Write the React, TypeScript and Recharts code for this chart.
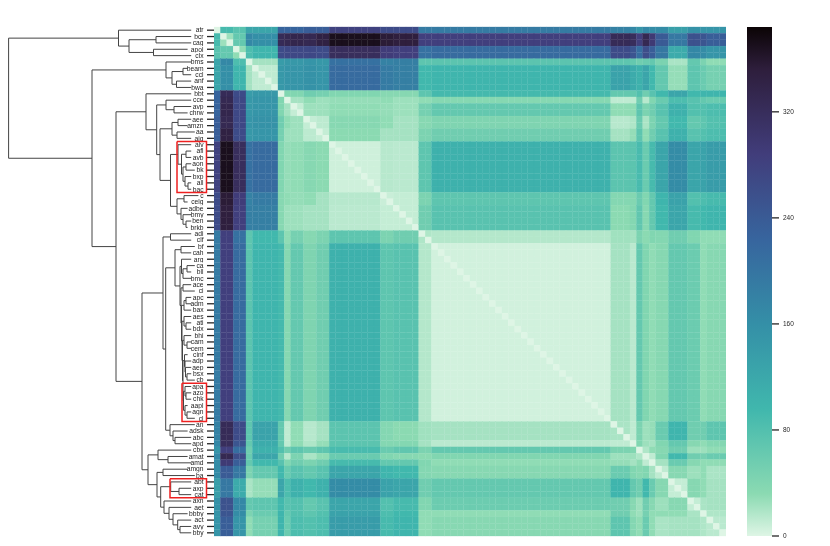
import { BarChart, Bar, ScatterChart, Scatter, XAxis, YAxis } from 'recharts'

// row order of the clustered matrix, top to bottom
const rowLabels = [
  'atr', 'bcr', 'cag', 'apol', 'clx', 'bms', 'beam', 'ccl', 'anf', 'bwa', 'bbt', 'cce', 'avp', 'chrw', 'aee', 'amzn',
  'aa', 'aig', 'alv', 'afl', 'avb', 'aon', 'bk', 'bxp', 'all', 'bac', 'c', 'celg', 'adbe', 'bmy', 'ben', 'brkb',
  'adi', 'clf', 'bf', 'cah', 'arg', 'ca', 'bll', 'bmc', 'ace', 'ci', 'apc', 'adm', 'bax', 'aes', 'ati', 'bdx', 'bhi',
  'cam', 'cem', 'cinf', 'adp', 'aep', 'bsx', 'cb', 'apa', 'azo', 'chk', 'aapl', 'agn', 'cl', 'an', 'adsk', 'abc',
  'apd', 'cbs', 'amat', 'amd', 'amgn', 'ba', 'abt', 'axp', 'cat', 'axn', 'aet', 'bbby', 'act', 'avy', 'bby',
]

// how many rows each block of the matrix covers
const blockSizes = [1, 2, 2, 1, 4, 1, 1, 2, 2, 2, 8, 2, 4, 2, 28, 3, 1, 1, 1, 1, 2, 3, 2, 1, 3]

// upper triangle of the block distances
const blockValues = [
  [0, 90, 75, 125, 125, 225, 225, 225, 235, 235, 280, 265, 265, 190, 190, 180, 170, 150, 170, 165, 165, 135, 155, 150, 150],
  [25, 65, 170, 160, 325, 330, 335, 330, 345, 370, 355, 350, 285, 285, 325, 320, 285, 330, 295, 240, 195, 255, 250, 235],
  [30, 85, 100, 265, 270, 270, 270, 265, 320, 290, 285, 205, 215, 265, 250, 210, 260, 235, 195, 115, 170, 165, 150],
  [0, 22, 140, 145, 145, 150, 145, 205, 180, 185, 70, 72, 70, 65, 55, 60, 65, 45, 20, 65, 45, 30],
  [12, 145, 150, 150, 155, 150, 215, 190, 185, 95, 100, 130, 115, 105, 125, 95, 65, 28, 70, 60, 50],
  [0, 40, 40, 55, 50, 40, 35, 35, 70, 92, 65, 65, 80, 55, 75, 95, 125, 95, 100, 100],
  [0, 22, 30, 25, 28, 30, 25, 30, 36, 12, 12, 55, 15, 40, 60, 85, 75, 65, 60],
  [10, 25, 25, 30, 28, 25, 50, 65, 30, 30, 70, 45, 55, 75, 105, 80, 80, 85],
  [10, 13, 35, 30, 22, 35, 42, 15, 18, 60, 20, 45, 65, 95, 65, 70, 80],
  [10, 32, 22, 22, 45, 55, 22, 28, 70, 30, 55, 75, 105, 75, 80, 85],
  [6, 15, 14, 70, 105, 72, 72, 88, 60, 90, 125, 165, 125, 130, 140],
  [8, 10, 45, 70, 38, 38, 60, 40, 65, 100, 130, 80, 85, 90],
  [10, 55, 75, 32, 38, 68, 35, 65, 95, 125, 90, 95, 100],
  [18, 16, 24, 22, 45, 32, 40, 38, 55, 40, 30, 30],
  [5, 22, 14, 65, 40, 30, 35, 65, 58, 30, 35],
  [20, 12, 45, 25, 28, 60, 100, 55, 55, 70],
  [0, 40, 25, 22, 40, 65, 35, 30, 38],
  [0, 18, 30, 35, 55, 25, 25, 30],
  [0, 12, 40, 95, 55, 50, 60],
  [0, 22, 60, 35, 30, 30],
  [12, 35, 25, 30, 20],
  [10, 35, 30, 22],
  [10, 20, 22],
  [0, 18],
  [14],
]

// dendrogram as nested [height, left, right], height
type TreeNode = string | [number, TreeNode, TreeNode]
const dendrogram: TreeNode = [205.4,
  [95.5, 'atr', [85, [58, 'bcr', 'cag'], [60.5, 'apol', 'clx']]],
  [122,
    [48, 'bms', [42, [31, 'beam', 'ccl'], [37.5, 'anf', 'bwa']]],
    [98,
      [68, 'bbt', [57.3,
        [48, 'cce', [40, 'avp', 'chrw']],
        [54,
          [42, [36, 'aee', 'amzn'], [37, 'aa', 'aig']],
          [43.5,
            [36, 'alv', [32.5, [28, 'afl', 'avb'], [31, [28, 'aon', 'bk'], [29, 'bxp', [26, 'all', 'bac']]]]],
            [37, [30, 'c', 'celg'], [33, 'adbe', [31, 'bmy', [28, 'ben', 'brkb']]]],
          ],
        ],
      ]],
      [72,
        [51,
          [43.5, 'adi', 'clf'],
          [48.3,
            [39,
              [33, 'bf', 'cah'],
              [34,
                [32.5, 'arg', [31, [27, 'ca', 'bll'], 'bmc']],
                [33, [31, 'ace', 'ci'],
                  [32.5, [30, [28, 'apc', 'adm'], 'bax'],
                    [32, [30, 'aes', [28, 'ati', 'bdx']],
                      [31.5, [30, 'bhi', [27, 'cam', 'cem']],
                        [31,
                          [29.5, 'cinf', [29, 'adp', [28.5, 'aep', [27, 'bsx', 'cb']]]],
                          [30.5, [29, 'apa', [28, 'azo', 'chk']], [29, 'aapl', [27, 'agn', 'cl']]],
                        ],
                      ],
                    ],
                  ],
                ],
              ],
            ],
            [44, 'an', [41, 'adsk', [39, 'abc', 'apd']]],
          ],
        ],
        [66,
          [56, 'cbs', [46, 'amat', 'amd']],
          [57,
            [51, 'amgn', 'ba'],
            [53.3,
              [43.3, 'abt', [35, 'axp', 'cat']],
              [50, 'axn', [45, 'aet', [41, 'bbby', [36.3, 'act', [34, 'avy', 'bby']]]]],
            ],
          ],
        ],
      ],
    ],
  ],
]

// red boxes: first row, row after last, reach into the tree
const boxStartRows = [18, 56, 71]
const boxEndRows = [26, 62, 74]
const boxReach = [37, 32, 44]
const BOX_RIGHT = 7.5

const colorbarTicks = [0, 80, 160, 240, 320]
const colorMax = 384

// mako_r
const rampStops = [0, 0.083, 0.25, 0.417, 0.583, 0.75, 0.917, 1]
const rampColors = ['#def5e5', '#8bdab2', '#40b7ad', '#348fa7', '#37659e', '#413d7b', '#2e1e3c', '#0b0405']

const hexToRgb = (hex: string) => [1, 3, 5].map((i) => parseInt(hex.slice(i, i + 2), 16))

function valueColor(value: number) {
  const f = Math.min(value / colorMax, 1)
  let i = 0
  while (i < rampStops.length - 2 && f > rampStops[i + 1]) i++
  const t = (f - rampStops[i]) / (rampStops[i + 1] - rampStops[i])
  const a = hexToRgb(rampColors[i])
  const b = hexToRgb(rampColors[i + 1])
  return `rgb(${a.map((c, k) => Math.round(c + (b[k] - c) * t)).join(',')})`
}

// expand the blocks to one cell per row/column
const rowBlock: number[] = blockSizes.flatMap((size, b) => Array(size).fill(b))
const cells = rowLabels.flatMap((_, r) =>
  rowLabels.map((_, c) => {
    const lo = Math.min(rowBlock[r], rowBlock[c])
    const hi = Math.max(rowBlock[r], rowBlock[c])
    return { col: c + 0.5, row: r + 0.5, value: r === c ? 0 : blockValues[lo][hi - lo] }
  })
)

// flatten the tree to U-shaped links, leaf y at row centre, node y at mean of children
const links: { d: number; row: number }[][] = []
function walk(node: TreeNode): { d: number; row: number } {
  if (typeof node === 'string') return { d: 0, row: rowLabels.indexOf(node) + 0.5 }
  const [height, left, right] = node
  const a = walk(left)
  const b = walk(right)
  links.push([a, { d: height, row: a.row }, { d: height, row: b.row }, b])
  return { d: height, row: (a.row + b.row) / 2 }
}
walk(dendrogram)

const boxes = boxStartRows.map((start, i) => [
  { d: boxReach[i], row: start },
  { d: BOX_RIGHT, row: start },
  { d: BOX_RIGHT, row: boxEndRows[i] },
  { d: boxReach[i], row: boxEndRows[i] },
  { d: boxReach[i], row: start },
])

const W = 830
const H = 546
const PLOT_TOP = 27
const PLOT_BOTTOM = 10
const HEAT_LEFT = 214
const HEAT_WIDTH = 512
const CELL_W = HEAT_WIDTH / rowLabels.length
const CELL_H = (H - PLOT_TOP - PLOT_BOTTOM) / rowLabels.length

const labelFont = '"Liberation Sans", Arial, sans-serif'
const rowTicks = rowLabels.map((_, i) => i + 0.5)

function HeatCell(props: any) {
  const { cx, cy, payload } = props
  const fill = valueColor(payload.value)
  return (
    <rect
      x={cx - CELL_W / 2}
      y={cy - CELL_H / 2}
      width={CELL_W}
      height={CELL_H}
      fill={fill}
      stroke={fill}
      strokeWidth={0.3}
    />
  )
}

function RowTick(props: any) {
  const { y, payload } = props
  const label = rowLabels[Math.floor(payload.value)]
  const right = HEAT_LEFT
  const bgWidth = 12 + label.length * 3.6
  return (
    <g>
      <rect x={right - bgWidth} y={y - CELL_H / 2} width={bgWidth} height={CELL_H} fill="#fff" />
      <line x1={right - 7} x2={right} y1={y} y2={y} stroke="#262626" strokeWidth={1.3} />
      <text x={right - 10.5} y={y} dy="0.34em" textAnchor="end" fontSize={6.7} fontFamily={labelFont} fill="#222">
        {label}
      </text>
    </g>
  )
}

const noDot = () => null

// transparent layers keep the text greyscale like the reference
const layer = { position: 'absolute', left: 0, top: 0, willChange: 'transform' } as const

export default function App() {
  const treeMargin = { top: PLOT_TOP, right: 0, bottom: PLOT_BOTTOM, left: 8.6 }
  return (
    <div style={{ position: 'absolute', left: 0, top: 0, width: W, height: H, background: '#fff' }}>
      <div style={layer}>
        <ScatterChart width={HEAT_LEFT} height={H} margin={treeMargin}>
          <XAxis type="number" dataKey="d" domain={[0, 205.4]} reversed hide />
          <YAxis type="number" dataKey="row" domain={[0, rowLabels.length]} reversed hide />
          {links.map((link, i) => (
            <Scatter
              key={i}
              data={link}
              line={{ stroke: '#444', strokeWidth: 1 }}
              shape={noDot}
              isAnimationActive={false}
            />
          ))}
        </ScatterChart>
      </div>
      <div style={layer}>
        <ScatterChart width={HEAT_LEFT + HEAT_WIDTH} height={H} margin={{ top: PLOT_TOP, right: 0, bottom: PLOT_BOTTOM, left: 0 }}>
          <XAxis type="number" dataKey="col" domain={[0, rowLabels.length]} hide />
          <YAxis
            type="number"
            dataKey="row"
            domain={[0, rowLabels.length]}
            reversed
            width={HEAT_LEFT}
            ticks={rowTicks}
            interval={0}
            tick={<RowTick />}
            tickLine={false}
            axisLine={false}
          />
          <Scatter data={cells} shape={HeatCell} isAnimationActive={false} />
        </ScatterChart>
      </div>
      <div style={layer}>
        <ScatterChart width={HEAT_LEFT} height={H} margin={treeMargin}>
          <XAxis type="number" dataKey="d" domain={[0, 205.4]} reversed hide />
          <YAxis type="number" dataKey="row" domain={[0, rowLabels.length]} reversed hide />
          {boxes.map((box, i) => (
            <Scatter
              key={i}
              data={box}
              line={{ stroke: '#ee2020', strokeWidth: 1.5 }}
              shape={noDot}
              isAnimationActive={false}
            />
          ))}
        </ScatterChart>
      </div>
      <div style={{ ...layer, left: 747 }}>
        <BarChart
          width={83}
          height={H}
          data={[{ name: 'scale', value: colorMax }]}
          margin={{ top: PLOT_TOP, right: 0, bottom: PLOT_BOTTOM, left: 0 }}
          barCategoryGap={0}
        >
          <defs>
            <linearGradient id="colorbar" x1="0" y1="1" x2="0" y2="0">
              {rampStops.map((s, i) => (
                <stop key={i} offset={`${s * 100}%`} stopColor={rampColors[i]} />
              ))}
            </linearGradient>
          </defs>
          <XAxis dataKey="name" hide />
          <YAxis
            orientation="right"
            type="number"
            domain={[0, colorMax]}
            ticks={colorbarTicks}
            width={58}
            axisLine={false}
            tickSize={7}
            tickMargin={4}
            tickLine={{ stroke: '#262626', strokeWidth: 1.3 }}
            tick={{ fontSize: 6.5, fontFamily: labelFont, fill: '#262626' }}
          />
          <Bar dataKey="value" fill="url(#colorbar)" isAnimationActive={false} />
        </BarChart>
      </div>
    </div>
  )
}
